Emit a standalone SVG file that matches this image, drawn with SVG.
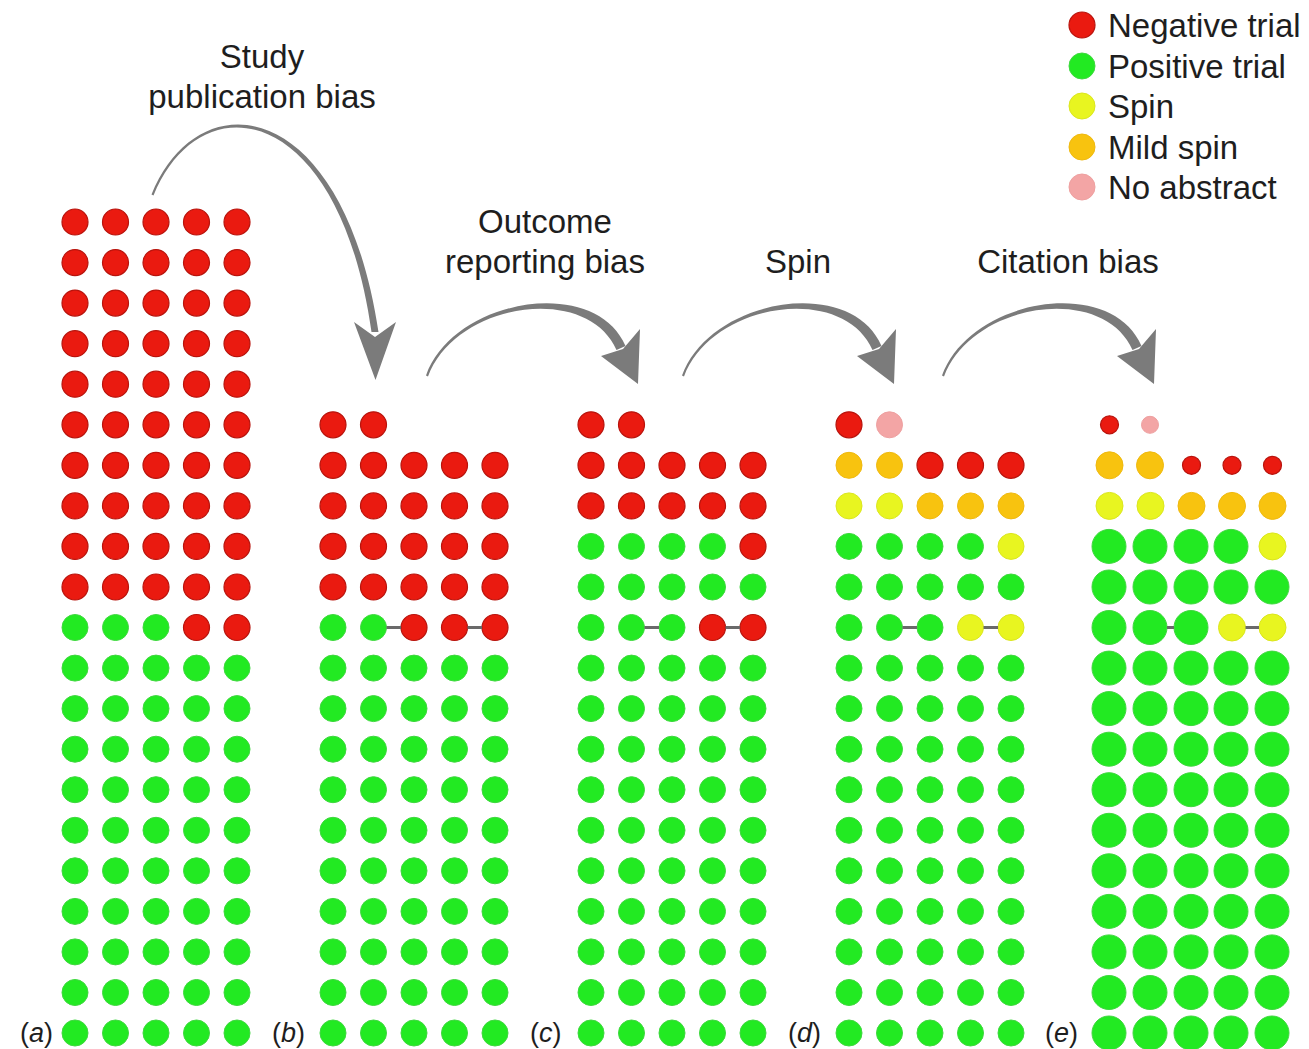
<svg xmlns="http://www.w3.org/2000/svg" xmlns:xlink="http://www.w3.org/1999/xlink" width="1309" height="1049" viewBox="0 0 1309 1049">
  <style>
    .r { fill: #ea1a10; stroke: #b8140d; stroke-width: 1.2; }
    .g { fill: #22ea22; stroke: #3fd83f; stroke-width: 1; }
    .y { fill: #e8f520; stroke: #dbe61e; stroke-width: 1; }
    .o { fill: #f8c30f; stroke: #efb90f; stroke-width: 1; }
    .p { fill: #f3a5a5; stroke: #eea0a0; stroke-width: 1; }
    .lbl { font-family: "Liberation Sans", Arial, sans-serif; font-size: 33px; fill: #1e1e1e; }
    .tag { font-family: "Liberation Sans", Arial, sans-serif; font-size: 27px; fill: #1e1e1e; }
    .arrow { fill: #7b7b7b; }
    .dash { stroke: #6a6a6a; stroke-width: 3; }
  </style>
  <defs>
    <!-- one row of five ordinary trial dots, origin at the first dot -->
    <g id="rowG" class="g">
      <circle cx="0" cy="0" r="13"/><circle cx="40.5" cy="0" r="13"/><circle cx="81" cy="0" r="13"/><circle cx="121.5" cy="0" r="13"/><circle cx="162" cy="0" r="13"/>
    </g>
    <g id="rowR" class="r">
      <circle cx="0" cy="0" r="13"/><circle cx="40.5" cy="0" r="13"/><circle cx="81" cy="0" r="13"/><circle cx="121.5" cy="0" r="13"/><circle cx="162" cy="0" r="13"/>
    </g>
    <!-- enlarged (highly cited) positive trials -->
    <g id="rowBG" class="g">
      <circle cx="0" cy="0" r="17"/><circle cx="41" cy="0" r="17"/><circle cx="82" cy="0" r="17"/><circle cx="122" cy="0" r="17"/><circle cx="163" cy="0" r="17"/>
    </g>
    <!-- curved tapered arrow used between panels b-c, c-d, d-e -->
    <g id="hop">
      <path class="arrow" d="M426,375.5 C454,298 595,275 625.5,346 L616.5,350 C587,283 456,302 428,376.5 Z"/>
      <polygon class="arrow" points="601,356 623,349 640,329 638,384"/>
    </g>
  </defs>

  <rect width="1309" height="1049" fill="#ffffff"/>

  <!-- headings -->
  <g id="titles">
    <text class="lbl" x="262" y="68" text-anchor="middle">Study</text>
    <text class="lbl" x="262" y="108" text-anchor="middle">publication bias</text>
    <text class="lbl" x="545" y="233" text-anchor="middle">Outcome</text>
    <text class="lbl" x="545" y="273" text-anchor="middle">reporting bias</text>
    <text class="lbl" x="798" y="273" text-anchor="middle">Spin</text>
    <text class="lbl" x="1068" y="273" text-anchor="middle">Citation bias</text>
  </g>

  <!-- legend -->
  <g id="legend">
    <circle class="r" cx="1082" cy="25" r="13"/>
    <circle class="g" cx="1082" cy="66" r="13"/>
    <circle class="y" cx="1082" cy="106" r="13"/>
    <circle class="o" cx="1082" cy="147" r="13"/>
    <circle class="p" cx="1082" cy="187" r="13"/>
    <text class="lbl" x="1108" y="37">Negative trial</text>
    <text class="lbl" x="1108" y="78">Positive trial</text>
    <text class="lbl" x="1108" y="118">Spin</text>
    <text class="lbl" x="1108" y="159">Mild spin</text>
    <text class="lbl" x="1108" y="199">No abstract</text>
  </g>

  <!-- (a) all trials conducted -->
  <g id="panel-a">
    <use href="#rowR" x="75" y="222"/>
    <use href="#rowR" x="75" y="262.6"/>
    <use href="#rowR" x="75" y="303.1"/>
    <use href="#rowR" x="75" y="343.7"/>
    <use href="#rowR" x="75" y="384.2"/>
    <use href="#rowR" x="75" y="424.8"/>
    <use href="#rowR" x="75" y="465.3"/>
    <use href="#rowR" x="75" y="505.9"/>
    <use href="#rowR" x="75" y="546.4"/>
    <use href="#rowR" x="75" y="587"/>
    <circle class="g" cx="75" cy="627.5" r="13"/>
    <circle class="g" cx="115.5" cy="627.5" r="13"/>
    <circle class="g" cx="156" cy="627.5" r="13"/>
    <circle class="r" cx="196.5" cy="627.5" r="13"/>
    <circle class="r" cx="237" cy="627.5" r="13"/>
    <use href="#rowG" x="75" y="668.1"/>
    <use href="#rowG" x="75" y="708.6"/>
    <use href="#rowG" x="75" y="749.2"/>
    <use href="#rowG" x="75" y="789.7"/>
    <use href="#rowG" x="75" y="830.3"/>
    <use href="#rowG" x="75" y="870.8"/>
    <use href="#rowG" x="75" y="911.4"/>
    <use href="#rowG" x="75" y="951.9"/>
    <use href="#rowG" x="75" y="992.5"/>
    <use href="#rowG" x="75" y="1033"/>
    <text class="tag" x="20" y="1042">(<tspan font-style="italic">a</tspan>)</text>
  </g>

  <!-- (b) after study publication bias -->
  <g id="panel-b">
    <circle class="r" cx="333" cy="424.8" r="13"/>
    <circle class="r" cx="373.5" cy="424.8" r="13"/>
    <use href="#rowR" x="333" y="465.3"/>
    <use href="#rowR" x="333" y="505.9"/>
    <use href="#rowR" x="333" y="546.4"/>
    <use href="#rowR" x="333" y="587"/>
    <circle class="g" cx="333" cy="627.5" r="13"/>
    <circle class="g" cx="373.5" cy="627.5" r="13"/>
    <circle class="r" cx="414" cy="627.5" r="13"/>
    <circle class="r" cx="454.5" cy="627.5" r="13"/>
    <circle class="r" cx="495" cy="627.5" r="13"/>
    <use href="#rowG" x="333" y="668.1"/>
    <use href="#rowG" x="333" y="708.6"/>
    <use href="#rowG" x="333" y="749.2"/>
    <use href="#rowG" x="333" y="789.7"/>
    <use href="#rowG" x="333" y="830.3"/>
    <use href="#rowG" x="333" y="870.8"/>
    <use href="#rowG" x="333" y="911.4"/>
    <use href="#rowG" x="333" y="951.9"/>
    <use href="#rowG" x="333" y="992.5"/>
    <use href="#rowG" x="333" y="1033"/>
    <text class="tag" x="272" y="1042">(<tspan font-style="italic">b</tspan>)</text>
  </g>

  <!-- (c) after outcome reporting bias -->
  <g id="panel-c">
    <circle class="r" cx="591" cy="424.8" r="13"/>
    <circle class="r" cx="631.5" cy="424.8" r="13"/>
    <use href="#rowR" x="591" y="465.3"/>
    <use href="#rowR" x="591" y="505.9"/>
    <circle class="g" cx="591" cy="546.4" r="13"/>
    <circle class="g" cx="631.5" cy="546.4" r="13"/>
    <circle class="g" cx="672" cy="546.4" r="13"/>
    <circle class="g" cx="712.5" cy="546.4" r="13"/>
    <circle class="r" cx="753" cy="546.4" r="13"/>
    <use href="#rowG" x="591" y="587"/>
    <circle class="g" cx="591" cy="627.5" r="13"/>
    <circle class="g" cx="631.5" cy="627.5" r="13"/>
    <circle class="g" cx="672" cy="627.5" r="13"/>
    <circle class="r" cx="712.5" cy="627.5" r="13"/>
    <circle class="r" cx="753" cy="627.5" r="13"/>
    <use href="#rowG" x="591" y="668.1"/>
    <use href="#rowG" x="591" y="708.6"/>
    <use href="#rowG" x="591" y="749.2"/>
    <use href="#rowG" x="591" y="789.7"/>
    <use href="#rowG" x="591" y="830.3"/>
    <use href="#rowG" x="591" y="870.8"/>
    <use href="#rowG" x="591" y="911.4"/>
    <use href="#rowG" x="591" y="951.9"/>
    <use href="#rowG" x="591" y="992.5"/>
    <use href="#rowG" x="591" y="1033"/>
    <text class="tag" x="530" y="1042">(<tspan font-style="italic">c</tspan>)</text>
  </g>

  <!-- (d) after spin -->
  <g id="panel-d">
    <circle class="r" cx="849" cy="424.8" r="13"/>
    <circle class="p" cx="889.5" cy="424.8" r="13"/>
    <circle class="o" cx="849" cy="465.3" r="13"/>
    <circle class="o" cx="889.5" cy="465.3" r="13"/>
    <circle class="r" cx="930" cy="465.3" r="13"/>
    <circle class="r" cx="970.5" cy="465.3" r="13"/>
    <circle class="r" cx="1011" cy="465.3" r="13"/>
    <circle class="y" cx="849" cy="505.9" r="13"/>
    <circle class="y" cx="889.5" cy="505.9" r="13"/>
    <circle class="o" cx="930" cy="505.9" r="13"/>
    <circle class="o" cx="970.5" cy="505.9" r="13"/>
    <circle class="o" cx="1011" cy="505.9" r="13"/>
    <circle class="g" cx="849" cy="546.4" r="13"/>
    <circle class="g" cx="889.5" cy="546.4" r="13"/>
    <circle class="g" cx="930" cy="546.4" r="13"/>
    <circle class="g" cx="970.5" cy="546.4" r="13"/>
    <circle class="y" cx="1011" cy="546.4" r="13"/>
    <use href="#rowG" x="849" y="587"/>
    <circle class="g" cx="849" cy="627.5" r="13"/>
    <circle class="g" cx="889.5" cy="627.5" r="13"/>
    <circle class="g" cx="930" cy="627.5" r="13"/>
    <circle class="y" cx="970.5" cy="627.5" r="13"/>
    <circle class="y" cx="1011" cy="627.5" r="13"/>
    <use href="#rowG" x="849" y="668.1"/>
    <use href="#rowG" x="849" y="708.6"/>
    <use href="#rowG" x="849" y="749.2"/>
    <use href="#rowG" x="849" y="789.7"/>
    <use href="#rowG" x="849" y="830.3"/>
    <use href="#rowG" x="849" y="870.8"/>
    <use href="#rowG" x="849" y="911.4"/>
    <use href="#rowG" x="849" y="951.9"/>
    <use href="#rowG" x="849" y="992.5"/>
    <use href="#rowG" x="849" y="1033"/>
    <text class="tag" x="788" y="1042">(<tspan font-style="italic">d</tspan>)</text>
  </g>

  <!-- (e) after citation bias: dot size reflects citations -->
  <g id="panel-e">
    <circle class="r" cx="1109.5" cy="424.8" r="9"/>
    <circle class="p" cx="1150" cy="424.8" r="8.5"/>
    <circle class="o" cx="1109.5" cy="465.3" r="13.5"/>
    <circle class="o" cx="1150" cy="465.3" r="13.5"/>
    <circle class="r" cx="1191.5" cy="465.3" r="9"/>
    <circle class="r" cx="1232" cy="465.3" r="9"/>
    <circle class="r" cx="1272.5" cy="465.3" r="9"/>
    <circle class="y" cx="1109.5" cy="505.9" r="13.5"/>
    <circle class="y" cx="1150.5" cy="505.9" r="13.5"/>
    <circle class="o" cx="1191.5" cy="505.9" r="13.5"/>
    <circle class="o" cx="1232" cy="505.9" r="13.5"/>
    <circle class="o" cx="1272.5" cy="505.9" r="13.5"/>
    <circle class="g" cx="1109" cy="546.4" r="17"/>
    <circle class="g" cx="1150" cy="546.4" r="17"/>
    <circle class="g" cx="1191" cy="546.4" r="17"/>
    <circle class="g" cx="1231" cy="546.4" r="17"/>
    <circle class="y" cx="1272.5" cy="546.4" r="13.5"/>
    <use href="#rowBG" x="1109" y="587"/>
    <circle class="g" cx="1109" cy="627.5" r="17"/>
    <circle class="g" cx="1150" cy="627.5" r="17"/>
    <circle class="g" cx="1191" cy="627.5" r="17"/>
    <circle class="y" cx="1232" cy="627.5" r="13.5"/>
    <circle class="y" cx="1272.5" cy="627.5" r="13.5"/>
    <use href="#rowBG" x="1109" y="668.1"/>
    <use href="#rowBG" x="1109" y="708.6"/>
    <use href="#rowBG" x="1109" y="749.2"/>
    <use href="#rowBG" x="1109" y="789.7"/>
    <use href="#rowBG" x="1109" y="830.3"/>
    <use href="#rowBG" x="1109" y="870.8"/>
    <use href="#rowBG" x="1109" y="911.4"/>
    <use href="#rowBG" x="1109" y="951.9"/>
    <use href="#rowBG" x="1109" y="992.5"/>
    <use href="#rowBG" x="1109" y="1033"/>
    <text class="tag" x="1045" y="1042">(<tspan font-style="italic">e</tspan>)</text>
  </g>

  <!-- arrows between panels and links joining paired trials -->
  <g id="connectors">
    <path class="arrow" d="M151.5,194.5 C199,78 343,96 378.5,332 L371.5,332 C339,101 200,81 153.5,195.5 Z"/>
    <polygon class="arrow" points="354,322 375,337 396,322 375.5,380"/>
    <use href="#hop"/>
    <use href="#hop" x="256"/>
    <use href="#hop" x="516"/>
    <line class="dash" x1="386.5" y1="627.5" x2="401" y2="627.5"/>
    <line class="dash" x1="467.5" y1="627.5" x2="482" y2="627.5"/>
    <line class="dash" x1="644.5" y1="627.5" x2="659" y2="627.5"/>
    <line class="dash" x1="725.5" y1="627.5" x2="740" y2="627.5"/>
    <line class="dash" x1="902.5" y1="627.5" x2="917" y2="627.5"/>
    <line class="dash" x1="983.5" y1="627.5" x2="998" y2="627.5"/>
    <line class="dash" x1="1167" y1="627.5" x2="1174" y2="627.5"/>
    <line class="dash" x1="1245.5" y1="627.5" x2="1259" y2="627.5"/>
  </g>
</svg>
